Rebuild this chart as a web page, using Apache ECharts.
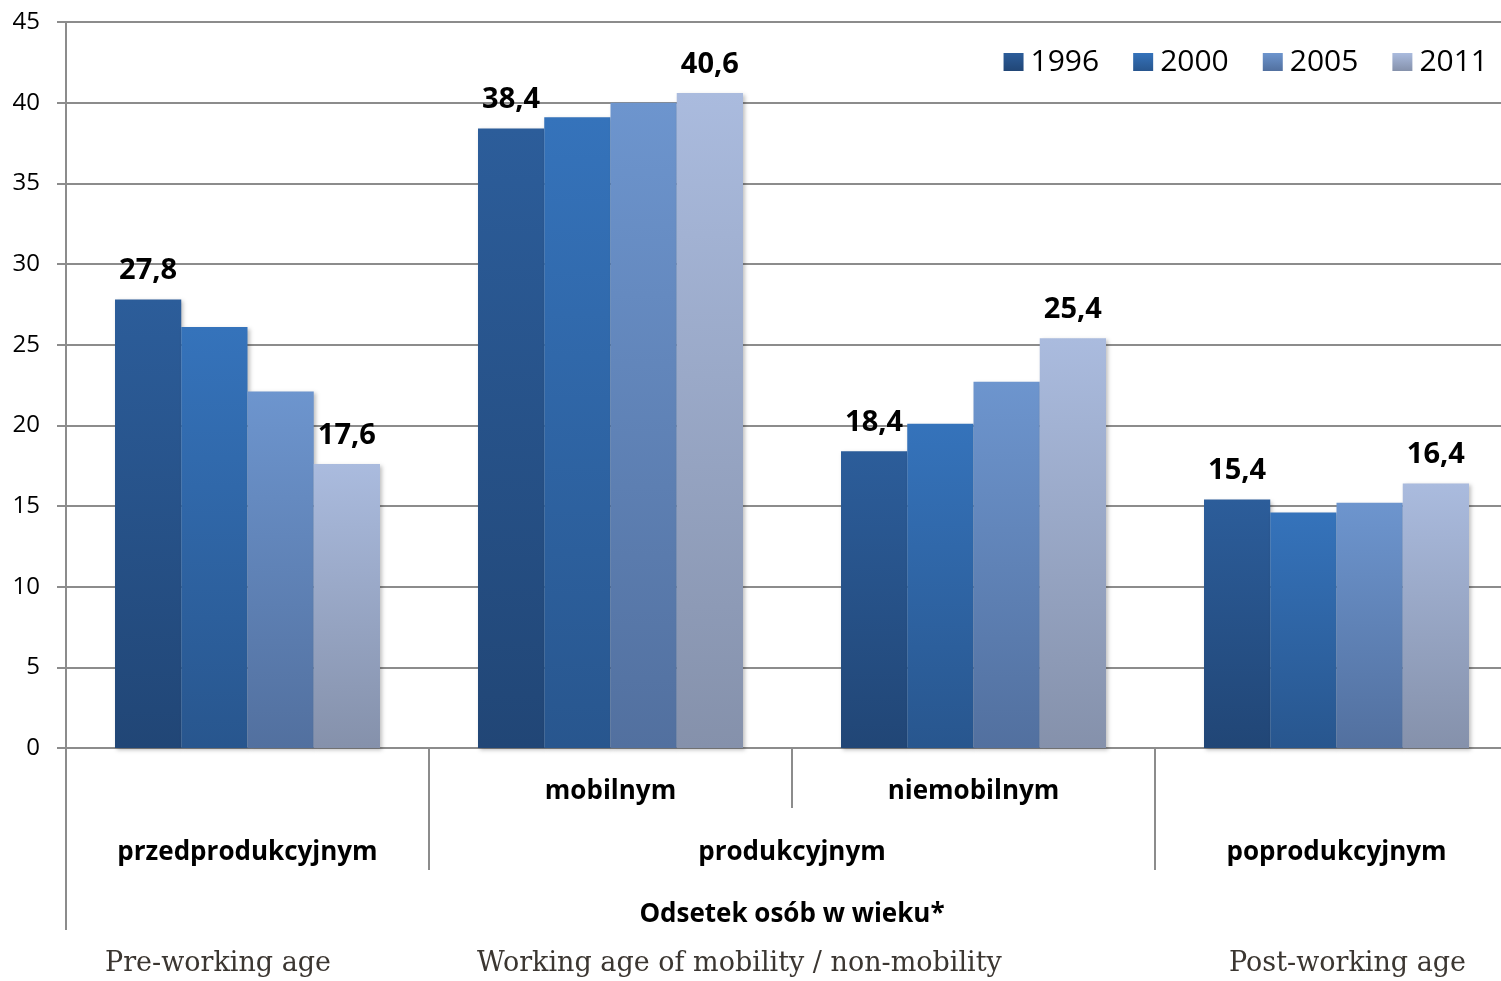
<!DOCTYPE html>
<html>
<head>
<meta charset="utf-8">
<script src="https://cdn.jsdelivr.net/npm/echarts@6/dist/echarts.min.js"></script>
<style>
html,body{margin:0;padding:0;background:#fff;}
#chart{width:1501px;height:981px;}
</style>
</head>
<body>
<div id="chart"></div>
<script>
// ---- data ----
const categories = ['przedprodukcyjnym', 'mobilnym', 'niemobilnym', 'poprodukcyjnym'];
const subLabels = ['', 'mobilnym', 'niemobilnym', ''];
const groupLabels = ['przedprodukcyjnym', 'produkcyjnym', 'poprodukcyjnym'];
const groupCenters = [0.5, 2, 3.5];
const axisTitle = 'Odsetek osób w wieku*';
const englishLabels = ['Pre-working age', 'Working age of mobility / non-mobility', 'Post-working age'];
const years = ['1996', '2000', '2005', '2011'];
const v1996 = [27.8, 38.4, 18.4, 15.4];
const v2000 = [26.1, 39.1, 20.1, 14.6];
const v2005 = [22.1, 40.0, 22.7, 15.2];
const v2011 = [17.6, 40.6, 25.4, 16.4];
const yTicks = [0, 5, 10, 15, 20, 25, 30, 35, 40, 45];

const seriesValues = [v1996, v2000, v2005, v2011];
const showLabel = [true, false, false, true];
const gradients = [
  ['#2C5D9A', '#214676'],
  ['#3573BB', '#28568E'],
  ['#6D95CE', '#52709F'],
  ['#AABBDE', '#8591AB']
];
const gray = '#8c8c8c';
const font = 'Open Sans';

const chart = echarts.init(document.getElementById('chart'));

const series = years.map((y, i) => ({
  name: y,
  type: 'bar',
  data: seriesValues[i],
  barGap: '0%',
  barCategoryGap: '27%',
  itemStyle: {
    color: new echarts.graphic.LinearGradient(0, 0, 0, 1, [
      { offset: 0, color: gradients[i][0] },
      { offset: 1, color: gradients[i][1] }
    ]),
    shadowColor: 'rgba(0,0,0,0.25)',
    shadowBlur: 4,
    shadowOffsetX: 2,
    shadowOffsetY: 2
  },
  label: {
    show: showLabel[i],
    position: 'top',
    distance: 14,
    fontFamily: font,
    fontWeight: 'bold',
    fontSize: 29,
    color: '#000',
    formatter: p => String(p.value).replace('.', ',')
  }
}));

chart.setOption({
  animation: false,
  backgroundColor: '#fff',
  textStyle: { fontFamily: font },
  legend: {
    data: years,
    right: 8,
    top: 42,
    itemWidth: 20,
    itemHeight: 18,
    itemGap: 34,
    icon: 'rect',
    textStyle: { fontFamily: font, fontSize: 30, color: '#000', padding: [0, 0, 0, 2] }
  },
  grid: { left: 66, top: 22, bottom: 233, right: -17, outerBoundsMode: 'none' },
  xAxis: [
    {
      type: 'category',
      data: categories,
      axisLine: { show: true, lineStyle: { color: gray, width: 2 } },
      axisTick: { show: true, interval: 0, length: 60, lineStyle: { color: gray, width: 2 } },
      axisLabel: {
        interval: 0,
        margin: 31,
        fontFamily: font,
        fontWeight: 'bold',
        fontSize: 26,
        color: '#000',
        formatter: (v, idx) => subLabels[idx]
      }
    },
    {
      type: 'value',
      min: 0,
      max: 4,
      position: 'bottom',
      offset: 60,
      gridIndex: 0,
      splitLine: { show: false },
      axisLine: { show: false },
      axisTick: { show: true, length: 62, customValues: [0, 1, 3, 4], lineStyle: { color: gray, width: 2 } },
      axisLabel: {
        show: true,
        customValues: groupCenters,
        margin: 32,
        fontFamily: font,
        fontWeight: 'bold',
        fontSize: 26,
        color: '#000',
        formatter: v => groupLabels[groupCenters.indexOf(v)]
      }
    },
    {
      type: 'value',
      min: 0,
      max: 4,
      position: 'bottom',
      offset: 122,
      gridIndex: 0,
      splitLine: { show: false },
      axisLine: { show: false },
      axisTick: { show: true, length: 60, customValues: [0], lineStyle: { color: gray, width: 2 } },
      axisLabel: { show: false },
      name: axisTitle,
      nameLocation: 'middle',
      nameGap: 32,
      nameTextStyle: { fontFamily: font, fontWeight: 'bold', fontSize: 26, color: '#000' }
    }
  ],
  yAxis: {
    type: 'value',
    min: yTicks[0],
    max: yTicks[yTicks.length - 1],
    interval: 5,
    axisLine: { show: true, lineStyle: { color: gray, width: 2 } },
    axisTick: { show: true, length: 9, lineStyle: { color: gray, width: 2 } },
    splitLine: { show: true, lineStyle: { color: gray, width: 2 } },
    axisLabel: { margin: 26, fontFamily: font, fontSize: 24, color: '#000' }
  },
  graphic: englishLabels.map((t, i) => ({
    type: 'text',
    left: [105, 477, 1229][i],
    top: 950,
    style: { text: t, font: '27px "DejaVu Serif"', fill: '#3b3631' }
  })),
  series: series
});
</script>
</body>
</html>
